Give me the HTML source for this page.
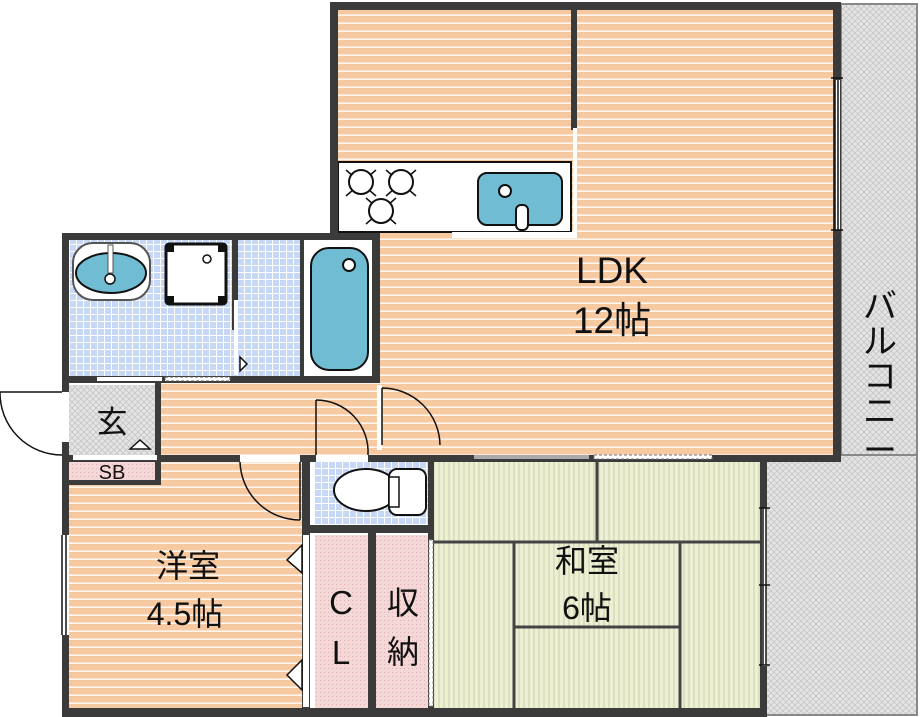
<!DOCTYPE html>
<html><head><meta charset="utf-8"><style>
html,body{margin:0;padding:0;background:#fff;width:920px;height:717px;overflow:hidden}
svg{display:block}
text{font-family:"Liberation Sans","Noto Sans CJK JP",sans-serif;fill:#111}
</style></head><body>
<svg width="920" height="717" viewBox="0 0 920 717" xmlns="http://www.w3.org/2000/svg">
<defs>
<pattern id="fl" width="8" height="8" patternUnits="userSpaceOnUse"><rect width="8" height="8" fill="#f7c9a1"/><rect y="6.5" width="8" height="1.3" fill="#fff"/></pattern>
<pattern id="tt" width="5" height="5" patternUnits="userSpaceOnUse"><rect width="5" height="5" fill="#eef0d6"/><rect x="3.5" width="1" height="5" fill="#c9cfa6"/></pattern>
<pattern id="tl" width="7" height="7" patternUnits="userSpaceOnUse"><rect width="7" height="7" fill="#fff"/><rect width="6" height="6" fill="#c7d8f6"/></pattern>
<pattern id="hx" width="6" height="6" patternUnits="userSpaceOnUse"><rect width="6" height="6" fill="#e4e4e4"/><path d="M0 0L6 6M6 0L0 6" stroke="#c6c6c6" stroke-width="0.8"/></pattern>
<pattern id="pk" width="4" height="4" patternUnits="userSpaceOnUse"><rect width="4" height="4" fill="#f4d8d8"/><rect width="1" height="1" fill="#e0b0b0"/></pattern>
</defs>
<rect x="841" y="4" width="76" height="451" fill="url(#hx)" stroke="#888" stroke-width="2"/>
<rect x="766" y="455" width="151" height="260" fill="url(#hx)" stroke="#888" stroke-width="2"/>
<rect x="335" y="6" width="502" height="452" fill="url(#fl)"/>
<rect x="155" y="380" width="230" height="78" fill="url(#fl)"/>
<rect x="66" y="460" width="240" height="252" fill="url(#fl)"/>
<rect x="69" y="240" width="236" height="138" fill="url(#tl)"/>
<rect x="302" y="240" width="72" height="138" fill="#fff"/>
<rect x="69" y="385" width="88" height="72" fill="url(#hx)"/>
<rect x="69" y="460" width="88" height="22" fill="url(#pk)"/>
<rect x="315" y="462" width="115" height="63" fill="url(#tl)"/>
<rect x="315" y="535" width="55" height="175" fill="url(#pk)"/>
<rect x="376" y="535" width="56" height="175" fill="url(#pk)"/>
<rect x="433" y="462" width="328" height="248" fill="url(#tt)"/>
<g stroke="#444" stroke-width="3" fill="none">
<path d="M433 542H760M597 462V542M514 542V708M680 542V708M514 627H680"/>
</g>
<rect x="338" y="162" width="233" height="70" fill="#fff" stroke="#111" stroke-width="2"/>
<g stroke="#111" stroke-width="1.5">
<path d="M346 170L376 196M376 170L346 196M386 170L416 196M416 170L386 196M366 198L396 224M396 198L366 224"/>
</g>
<g fill="#fff" stroke="#111" stroke-width="2">
<circle cx="361" cy="182" r="12"/><circle cx="401" cy="182" r="12"/><circle cx="381" cy="211" r="12"/>
</g>
<rect x="478" y="173" width="84" height="52" rx="9" fill="#6fbcd3" stroke="#111" stroke-width="2"/>
<circle cx="505" cy="191" r="6" fill="#fff" stroke="#111" stroke-width="2"/>
<rect x="516" y="205" width="12" height="25" rx="5" fill="#fff" stroke="#111" stroke-width="2"/>
<rect x="73" y="243" width="77" height="57" rx="20" fill="#fff" stroke="#555" stroke-width="2"/>
<ellipse cx="111" cy="273" rx="35" ry="20" fill="#6fbcd3" stroke="#111" stroke-width="2"/>
<rect x="108" y="245" width="5" height="28" fill="#fff" stroke="#555"/>
<circle cx="110" cy="279" r="5" fill="#fff" stroke="#111" stroke-width="1.5"/>
<rect x="166" y="244" width="60" height="60" rx="3" fill="#fff" stroke="#111" stroke-width="3"/>
<g fill="#111"><rect x="166" y="244" width="8" height="8"/><rect x="218" y="244" width="8" height="8"/><rect x="166" y="296" width="8" height="8"/><rect x="218" y="296" width="8" height="8"/></g>
<circle cx="207" cy="259" r="4" fill="#fff" stroke="#111" stroke-width="1.5"/>
<rect x="311" y="248" width="57" height="122" rx="18" fill="#6fbcd3" stroke="#111" stroke-width="2"/>
<circle cx="349" cy="265" r="6" fill="#fff" stroke="#111" stroke-width="2"/>
<ellipse cx="366" cy="490" rx="32" ry="21" fill="#fff" stroke="#111" stroke-width="2"/>
<rect x="389" y="469" width="37" height="46" rx="8" fill="#fff" stroke="#111" stroke-width="2"/>
<rect x="389" y="477" width="10" height="30" fill="#fff" stroke="#111" stroke-width="1.5"/>
<g fill="#3b3b3b">
<rect x="330" y="2" width="511" height="8"/>
<rect x="330" y="2" width="8" height="233"/>
<rect x="833" y="2" width="8" height="460"/>
<rect x="571" y="8" width="6" height="122"/>
<rect x="62" y="233" width="318" height="7"/>
<rect x="62" y="233" width="7" height="484"/>
<rect x="232" y="240" width="6" height="90"/>
<rect x="300" y="240" width="4" height="138"/>
<rect x="372" y="233" width="8" height="150"/>
<rect x="62" y="376" width="318" height="7"/>
<rect x="155" y="383" width="6" height="72"/>
<rect x="62" y="455" width="778" height="7"/>
<rect x="62" y="480" width="98" height="5"/>
<rect x="155" y="455" width="6" height="30"/>
<rect x="302" y="462" width="8" height="248"/>
<rect x="310" y="525" width="122" height="8"/>
<rect x="368" y="533" width="8" height="177"/>
<rect x="428" y="455" width="6" height="255"/>
<rect x="760" y="455" width="7" height="262"/>
<rect x="62" y="708" width="705" height="9"/>
</g>
<g fill="#fff">
<rect x="573" y="128" width="4" height="110"/>
<rect x="452" y="232" width="125" height="6"/>
<rect x="835" y="80" width="5" height="150"/>
<rect x="234" y="300" width="4" height="75"/>
<rect x="97" y="377" width="65" height="4"/>
<rect x="165" y="377" width="65" height="4" stroke="#555" stroke-dasharray="3 2"/>
<rect x="62" y="392" width="7" height="50"/>
<rect x="73" y="455" width="84" height="5"/>
<rect x="240" y="455" width="60" height="7"/>
<rect x="316" y="455" width="52" height="7"/>
<rect x="377" y="385" width="5" height="65"/>
<rect x="474" y="455" width="115" height="4" fill="#aaa"/>
<rect x="594" y="455" width="118" height="4" stroke="#777" stroke-dasharray="3 2"/>
<rect x="303" y="535" width="6" height="172"/>
<rect x="429" y="540" width="4" height="166" stroke="#888" stroke-dasharray="3 2"/>
<rect x="762" y="508" width="5" height="158"/>
<rect x="62" y="535" width="7" height="100"/>
</g>
<g stroke="#111" stroke-width="1.5" fill="none">
<path d="M835 80V230M838 80V230M831 78H843M831 230H843"/>
<path d="M763 508V665M766 508V665M759 508H770M759 665H770M759 585H770"/>
<path d="M62 535V635M66 535V635"/>
<path d="M62 392H0A62 62 0 0 0 62 455"/>
<path d="M316 400V455M316 400A52 52 0 0 1 368 455"/>
<path d="M382 388V445M382 388A58 58 0 0 1 440 445"/>
<path d="M300 462V520M300 520A60 60 0 0 1 240 462"/>
<path d="M240 357L247 364L240 371Z" fill="#fff"/>
<path d="M130 449L140 440L150 449Z" fill="#fff"/>
<path d="M302 545L287 560L302 573Z" fill="#fff"/>
<path d="M302 660L287 675L302 690Z" fill="#fff"/>
</g>
<text x="612" y="283" font-size="37" text-anchor="middle">LDK</text>
<text x="612" y="333" font-size="37" text-anchor="middle">12帖</text>
<text x="188" y="577" font-size="32" text-anchor="middle">洋室</text>
<text x="185" y="625" font-size="32" text-anchor="middle">4.5帖</text>
<text x="587" y="572" font-size="32" text-anchor="middle">和室</text>
<text x="587" y="619" font-size="32" text-anchor="middle">6帖</text>
<text x="341" y="614" font-size="33" text-anchor="middle">C</text>
<text x="341" y="664" font-size="33" text-anchor="middle">L</text>
<text x="403" y="614" font-size="32" text-anchor="middle">収</text>
<text x="403" y="663" font-size="32" text-anchor="middle">納</text>
<text x="112" y="433" font-size="31" text-anchor="middle">玄</text>
<text x="112" y="479" font-size="20" text-anchor="middle">SB</text>
<g font-size="34" text-anchor="middle">
<text x="880" y="318">バ</text><text x="880" y="353">ル</text><text x="880" y="388">コ</text><text x="880" y="423">ニ</text><text x="880" y="462">ー</text>
</g>
</svg>
</body></html>
